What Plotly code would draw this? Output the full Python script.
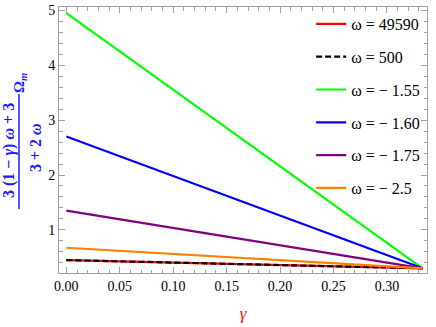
import plotly.graph_objects as go

# gamma range of each line (start, end)
gamma = [0.0, 0.3333]

# legend labels and colours
labels = ['ω = 49590', 'ω = 500', 'ω = − 1.55', 'ω = − 1.60', 'ω = − 1.75', 'ω = − 2.5']
colors = ['#ff0000', '#000000', '#00ff00', '#0000ff', '#800080', '#ff8000']
dashes = ['solid', '6px,3px', 'solid', 'solid', 'solid', 'solid']

# values at gamma = 0 and gamma = 1/3
y_start = [0.45, 0.45, 4.95, 2.70, 1.35, 0.675]
y_end = [0.30, 0.30, 0.30, 0.30, 0.30, 0.30]

# tick labels
x_ticks = [0.00, 0.05, 0.10, 0.15, 0.20, 0.25, 0.30]
y_ticks = [1, 2, 3, 4, 5]

frame_col = '#a0a0a0'
serif = 'Liberation Serif'

fig = go.Figure()
for i in range(len(labels)):
    fig.add_scatter(
        x=gamma, y=[y_start[i], y_end[i]],
        mode='lines', name=labels[i],
        legendgroup=str(i),
        line=dict(color=colors[i], width=2.2, dash=dashes[i]))

# y axis label: rotated fraction built from annotations
W, H, L, T = 368, 266, 59, 7


def px_x(p):
    return (p - L) / W


def px_y(p):
    return (T + H - p) / H


lab_font = dict(family=serif, size=16, color='#1a1aff')
fig.add_annotation(x=px_x(9), y=px_y(151), xref='paper', yref='paper',
                   text='<b>3 (1 − <i>γ</i>) <i>ω</i> + 3</b>', textangle=-90,
                   showarrow=False, font=lab_font, xanchor='center', yanchor='middle')
fig.add_annotation(x=px_x(35), y=px_y(148), xref='paper', yref='paper',
                   text='<b>3 + 2 <i>ω</i></b>', textangle=-90,
                   showarrow=False, font=lab_font, xanchor='center', yanchor='middle')
fig.add_annotation(x=px_x(20), y=px_y(83), xref='paper', yref='paper',
                   text='<b>Ω<sub><i>m</i></sub></b>', textangle=-90,
                   showarrow=False, font=dict(family=serif, size=15, color='#1a1aff'),
                   xanchor='center', yanchor='middle')
fig.add_shape(type='line', xref='paper', yref='paper',
              x0=px_x(19), x1=px_x(19), y0=px_y(94), y1=px_y(209),
              line=dict(color='#1a1aff', width=1.5))

fig.update_xaxes(
    range=[-0.0069, 0.3375], tickvals=x_ticks, tickformat='.2f',
    showgrid=False, zeroline=False, automargin=False,
    showline=True, linecolor=frame_col, linewidth=1, mirror='ticks',
    ticks='inside', ticklen=6, tickcolor=frame_col,
    minor=dict(ticks='inside', dtick=0.01, ticklen=3.5, tickcolor=frame_col),
    tickfont=dict(family=serif, size=14, color='black'),
    title=dict(text='<i>γ</i>', font=dict(family=serif, size=17, color='#ff0000'), standoff=14))
fig.update_yaxes(
    range=[0.215, 5.06], tickvals=y_ticks,
    showgrid=False, zeroline=False, automargin=False,
    showline=True, linecolor=frame_col, linewidth=1, mirror='ticks',
    ticks='inside', ticklen=6, tickcolor=frame_col,
    minor=dict(ticks='inside', dtick=0.2, ticklen=3.5, tickcolor=frame_col),
    tickfont=dict(family=serif, size=14, color='black'))

fig.update_layout(
    width=436, height=327,
    margin=dict(l=59, r=9, t=7, b=54),
    plot_bgcolor='white', paper_bgcolor='white',
    showlegend=True,
    legend=dict(x=0.995, y=1.0, xanchor='right', yanchor='top',
                bgcolor='rgba(0,0,0,0)', tracegroupgap=9,
                font=dict(family=serif, size=16, color='black')))

# page body has a default 8px margin; remove it so the figure sits at the corner
fig.write_html('out.html', config={'displayModeBar': False},
               post_script="document.body.style.margin='0';")
